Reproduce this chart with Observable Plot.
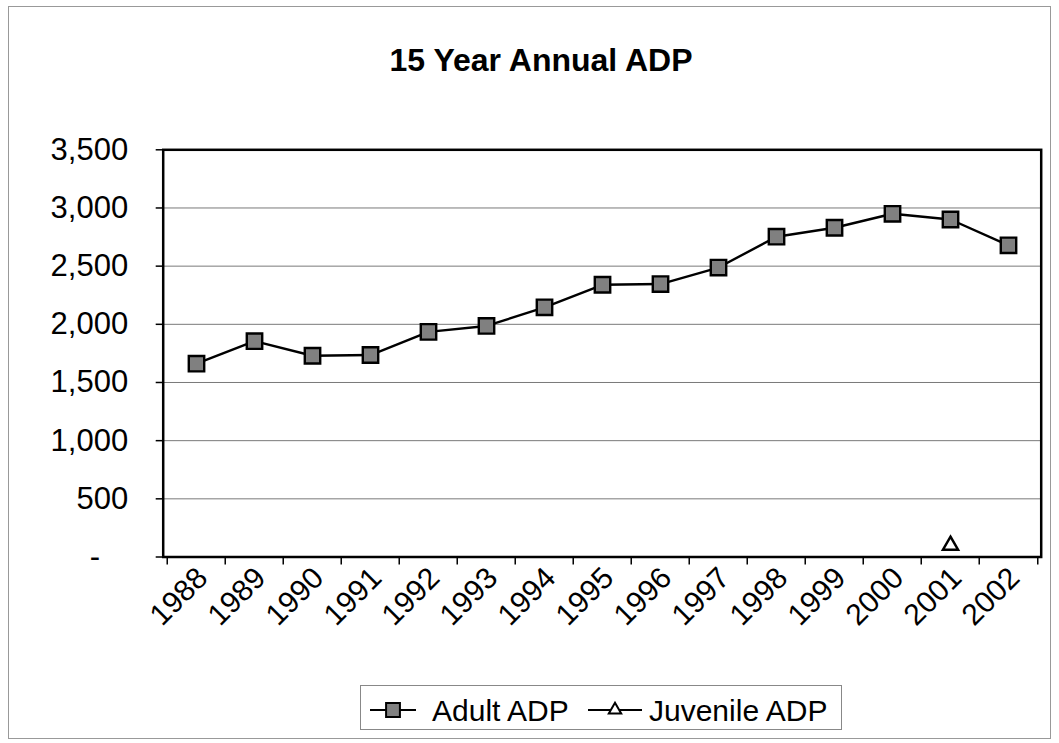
<!DOCTYPE html>
<html>
<head>
<meta charset="utf-8">
<script src="https://cdn.jsdelivr.net/npm/d3@7"></script>
<script src="https://cdn.jsdelivr.net/npm/@observablehq/plot@0.6"></script>
<style>
  html, body { margin: 0; padding: 0; background: #fff; }
  #wrap { position: relative; width: 1059px; height: 743px; overflow: hidden; font-family: "Liberation Sans", Arial, sans-serif; }
  #border { position: absolute; left: 8px; top: 6px; width: 1043px; height: 733px; border: 1px solid #999; box-sizing: border-box; }
  #title { position: absolute; left: 0; top: 44px; width: 1082px; text-align: center; font-weight: bold; font-size: 32px; line-height: 32px; color: #000; }
  #chart { position: absolute; left: 0; top: 0; }
  #legend { position: absolute; left: 0; top: 0; }
</style>
</head>
<body>
<div id="wrap">
  <div id="border"></div>
  <div id="title">15 Year Annual ADP</div>
  <div id="chart"></div>
  <svg id="legend" width="1059" height="743"></svg>
</div>
<script>
const years = ["1988","1989","1990","1991","1992","1993","1994","1995","1996","1997","1998","1999","2000","2001","2002"];
const adultADP = [1662,1855,1730,1736,1935,1986,2146,2340,2346,2488,2753,2830,2950,2901,2679];
const juvenileYears = ["2001"];
const juvenileADP = [100];
const yTicks = [0,500,1000,1500,2000,2500,3000,3500];
const seriesNames = ["Adult ADP", "Juvenile ADP"];

const W = 1059, H = 680;
const mL = 162.7, mR = 18.3, mT = 149.3, mB = 123.5;
const step = (W - mL - mR) / years.length;

const chart = Plot.plot({
  width: W,
  height: H,
  marginLeft: mL,
  marginRight: mR,
  marginTop: mT,
  marginBottom: mB,
  style: { fontFamily: "Liberation Sans, Arial, sans-serif", fontSize: "31px", background: "transparent", color: "#000", overflow: "visible" },
  x: { type: "point", domain: years, padding: 0.5, axis: null },
  y: { domain: [0, 3500], axis: null },
  marks: [
    Plot.gridY(yTicks.filter(t => t > 0 && t < 3500), { stroke: "#7a7a7a", strokeOpacity: 1, strokeWidth: 1 }),
    Plot.frame({ stroke: "#000", strokeWidth: 2.5 }),
    Plot.axisY(yTicks.filter(t => t > 0), { tickSize: 7, tickPadding: 28, fontSize: 31, tickFormat: d3.format(","), stroke: "#000", strokeWidth: 1.5 }),
    Plot.axisY([0], { tickSize: 7, tickPadding: 56, fontSize: 31, tickFormat: () => "-", stroke: "#000", strokeWidth: 1.5 }),
    Plot.ruleX(years, { x: d => d, y1: 0, y2: 0, dx: -step / 2, insetBottom: -8, stroke: "#000", strokeWidth: 1.5 }),
    Plot.ruleX([years[years.length - 1]], { x: d => d, y1: 0, y2: 0, dx: step / 2, insetBottom: -8, stroke: "#000", strokeWidth: 1.5 }),
    Plot.axisX({ tickRotate: -45, tickSize: 0, tickPadding: 16, fontSize: 30, dx: 6 }),
    Plot.line(adultADP, { x: (d, i) => years[i], y: d => d, stroke: "#000", strokeWidth: 2.4 }),
    Plot.dot(adultADP, { x: (d, i) => years[i], y: d => d, symbol: "square", r: 8.7, fill: "#808080", stroke: "#000", strokeWidth: 2.4 }),
    Plot.dot(juvenileADP, { x: (d, i) => juvenileYears[i], y: d => d, symbol: "triangle", r: 5.6, fill: "#fff", stroke: "#000", strokeWidth: 2.5 })
  ]
});
document.getElementById("chart").appendChild(chart);

// Legend
const lg = d3.select("#legend");
lg.append("rect").attr("x", 360.5).attr("y", 685.5).attr("width", 481).attr("height", 44)
  .attr("fill", "#fff").attr("stroke", "#888").attr("stroke-width", 1);
const legendItems = [
  { name: seriesNames[0], x0: 370, x1: 416, tx: 432, sym: d3.symbolSquare, size: Math.PI * 7.8 * 7.8, fill: "#808080", sw: 2 },
  { name: seriesNames[1], x0: 588, x1: 642, tx: 649, sym: d3.symbolTriangle, size: Math.PI * 4.6 * 4.6, fill: "#fff", sw: 2 }
];
const ly = 710;
for (const it of legendItems) {
  lg.append("line").attr("x1", it.x0).attr("x2", it.x1).attr("y1", ly).attr("y2", ly).attr("stroke", "#000").attr("stroke-width", 2.2);
  lg.append("path").attr("d", d3.symbol(it.sym, it.size)()).attr("transform", `translate(${(it.x0 + it.x1) / 2},${ly})`)
    .attr("fill", it.fill).attr("stroke", "#000").attr("stroke-width", it.sw);
  lg.append("text").attr("x", it.tx).attr("y", 721).attr("font-size", 30).attr("font-family", "Liberation Sans, Arial, sans-serif").attr("fill", "#000").text(it.name);
}
</script>
</body>
</html>
